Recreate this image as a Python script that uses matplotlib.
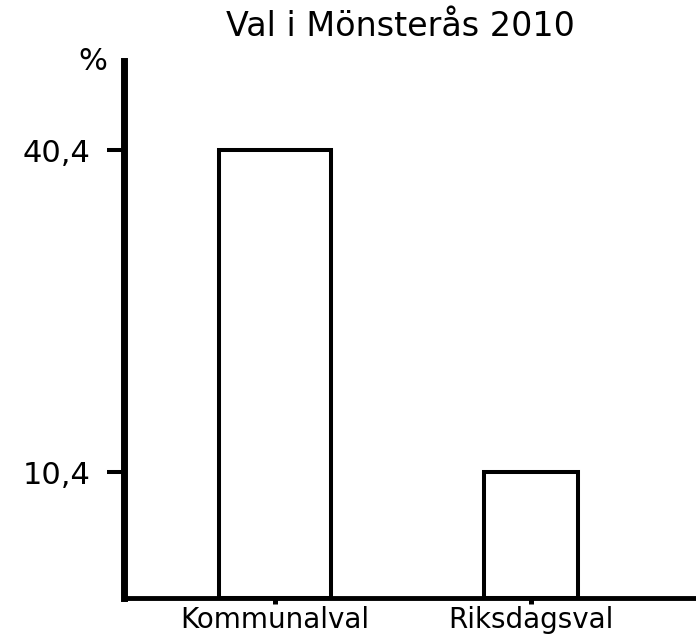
import numpy as np
import matplotlib
matplotlib.use('Agg')
import matplotlib.pyplot as plt

TITLE = "Val i Mönsterås 2010"
categories = ["Kommunalval", "Riksdagsval"]
values = [40.4, 10.4]
yticks = [40.4, 10.4]
ytick_labels = ["40,4", "10,4"]

plt.rcParams['font.family'] = ['DejaVu Sans']

fig = plt.figure(figsize=(6.96, 6.34), dpi=100)
ax = fig.add_axes([0.178, 0.0568, 0.822, 0.847])

x = np.arange(len(categories))
ybot = -1.33
widths = [0.4375, 0.367]
ax.bar(x, np.array(values) - ybot, bottom=ybot, width=widths,
       color='white', edgecolor='black', linewidth=2.9)

ax.set_xlim(-0.59, 1.645)
ax.set_ylim(ybot, 48.7)

ax.set_yticks(yticks)
ax.set_yticklabels(ytick_labels, fontsize=22)
ax.set_xticks(x)
ax.set_xticklabels(categories, fontsize=20)

ax.tick_params(axis='y', length=12.2, width=2.9, pad=12, color='black')
ax.tick_params(axis='x', length=4.5, width=3.6, pad=1.5, color='black')

ax.spines['top'].set_visible(False)
ax.spines['right'].set_visible(False)
ax.spines['left'].set_linewidth(5)
ax.spines['bottom'].set_linewidth(3.5)

fig.text(107 / 696, 1 - 62 / 634, "%", fontsize=22, ha='right', va='center')
fig.text(400 / 696, 1 - 27 / 634, TITLE, fontsize=24, ha='center', va='center')

fig.savefig("out.png", dpi=100)
